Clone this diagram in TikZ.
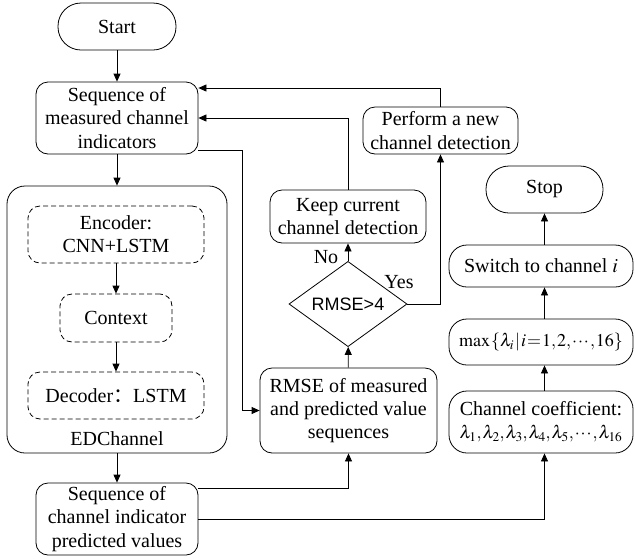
\documentclass[tikz,border=0pt]{standalone}
\usepackage{mathptmx}
\usepackage{fontspec}
\setmainfont{Liberation Serif}
\newfontfamily\sansf{Liberation Sans}
\newfontfamily\cjk{Noto Sans CJK SC}
\usetikzlibrary{arrows.meta,shapes.geometric}
\begin{document}
\begin{tikzpicture}[x=1pt,y=-1pt,
 font=\fontsize{20}{23.3}\selectfont,
 box/.style={draw,rounded corners=12pt,align=center,inner sep=0pt,line width=0.8pt},
 term/.style={box,rounded corners=23pt},
 dbox/.style={box,dashed,dash pattern=on 5pt off 3pt},
 arr/.style={-{Triangle[length=8pt,width=7pt]},line width=0.8pt},
 ln/.style={line width=0.8pt}]
\useasboundingbox (0,0) rectangle (635,558);
% left column
\node[term,minimum width=118pt,minimum height=47pt] (start) at (117,26.5) {Start};
\node[box,minimum width=162pt,minimum height=72pt] (seqm) at (117,118) {Sequence of\\measured channel\\indicators};
\node[box,rounded corners=18pt,minimum width=220pt,minimum height=267pt] (ed) at (117,319.5) {};
\node[dbox,minimum width=176pt,minimum height=57pt] (enc) at (116,234.5) {Encoder:\\CNN+LSTM};
\node[dbox,minimum width=112pt,minimum height=48pt] (ctx) at (116,318) {Context};
\node[dbox,minimum width=176pt,minimum height=47pt] (dec) at (116,395.5) {Decoder{\cjk ：}LSTM};
\node (edl) at (117,439) {EDChannel};
\node[box,minimum width=162pt,minimum height=72pt] (seqp) at (117,519) {Sequence of\\channel indicator\\predicted values};
% middle column
\node[box,minimum width=177pt,minimum height=85pt] (rmse) at (348.5,410.5) {RMSE of measured\\and predicted value\\sequences};
\node[draw,diamond,inner sep=0pt,line width=0.8pt,minimum width=118pt,minimum height=71pt] (dia) at (348,304) {\sansf\fontsize{18}{20}\selectfont RMSE>4};
\node[box,minimum width=156pt,minimum height=53pt] (keep) at (348,216.5) {Keep current\\channel detection};
\node[box,minimum width=155pt,minimum height=47pt] (perf) at (440.5,130.5) {Perform a new\\channel detection};
\node (no) at (326,257) {No};
\node (yes) at (399,282) {Yes};
% right column
\node[term,minimum width=117pt,minimum height=47pt] (stop) at (544.5,189.5) {Stop};
\node[box,rounded corners=18pt,minimum width=184pt,minimum height=42pt] (sw) at (541,266) {Switch to channel $i$};
\node[box,rounded corners=18pt,minimum width=184pt,minimum height=46pt] (mx) at (541,342) {\fontsize{18}{20}\selectfont\thickmuskip=1mu\medmuskip=0mu\thinmuskip=1mu$\max\left\{\lambda_i\,\middle|\,i=1,2,\cdots,16\right\}$};
\node[box,rounded corners=18pt,minimum width=184pt,minimum height=62pt] (cc) at (541,422) {Channel coefficient:\\{\fontsize{18}{20}\selectfont\thinmuskip=1mu$\lambda_1,\lambda_2,\lambda_3,\lambda_4,\lambda_5,\cdots,\lambda_{16}$}};
% connectors
\draw[arr] (start) -- (seqm);
\draw[arr] (seqm) -- (ed);
\draw[arr] (enc) -- (ctx);
\draw[arr] (ctx) -- (dec);
\draw[arr] (ed) -- (seqp);
\coordinate (c1) at (242,150);
\draw[arr] ([yshift=-32pt]seqm.east) -- (c1) |- (rmse.west);
\draw[arr] ([yshift=31pt]seqp.east) -| (rmse.south);
\draw[arr] (rmse) -- (dia);
\draw[arr] (dia) -- (keep);
\draw[arr] (keep.north) |- (seqm.east);
\coordinate (c2) at (440.5,304);
\draw[arr] (dia.east) -- (c2) -- (perf.south);
\coordinate (c3) at (440.5,88);
\draw[arr] (perf.north) -- (c3) -- ([yshift=30pt]seqm.east);
\coordinate (c4) at (544.5,519);
\draw[arr] (seqp.east) -- (c4) -- (c4 |- cc.south);
\draw[arr] (cc.north -| stop.south) -- (mx.south -| stop.south);
\draw[arr] (mx.north -| stop.south) -- (sw.south -| stop.south);
\draw[arr] (sw.north -| stop.south) -- (stop.south);
\end{tikzpicture}
\end{document}
